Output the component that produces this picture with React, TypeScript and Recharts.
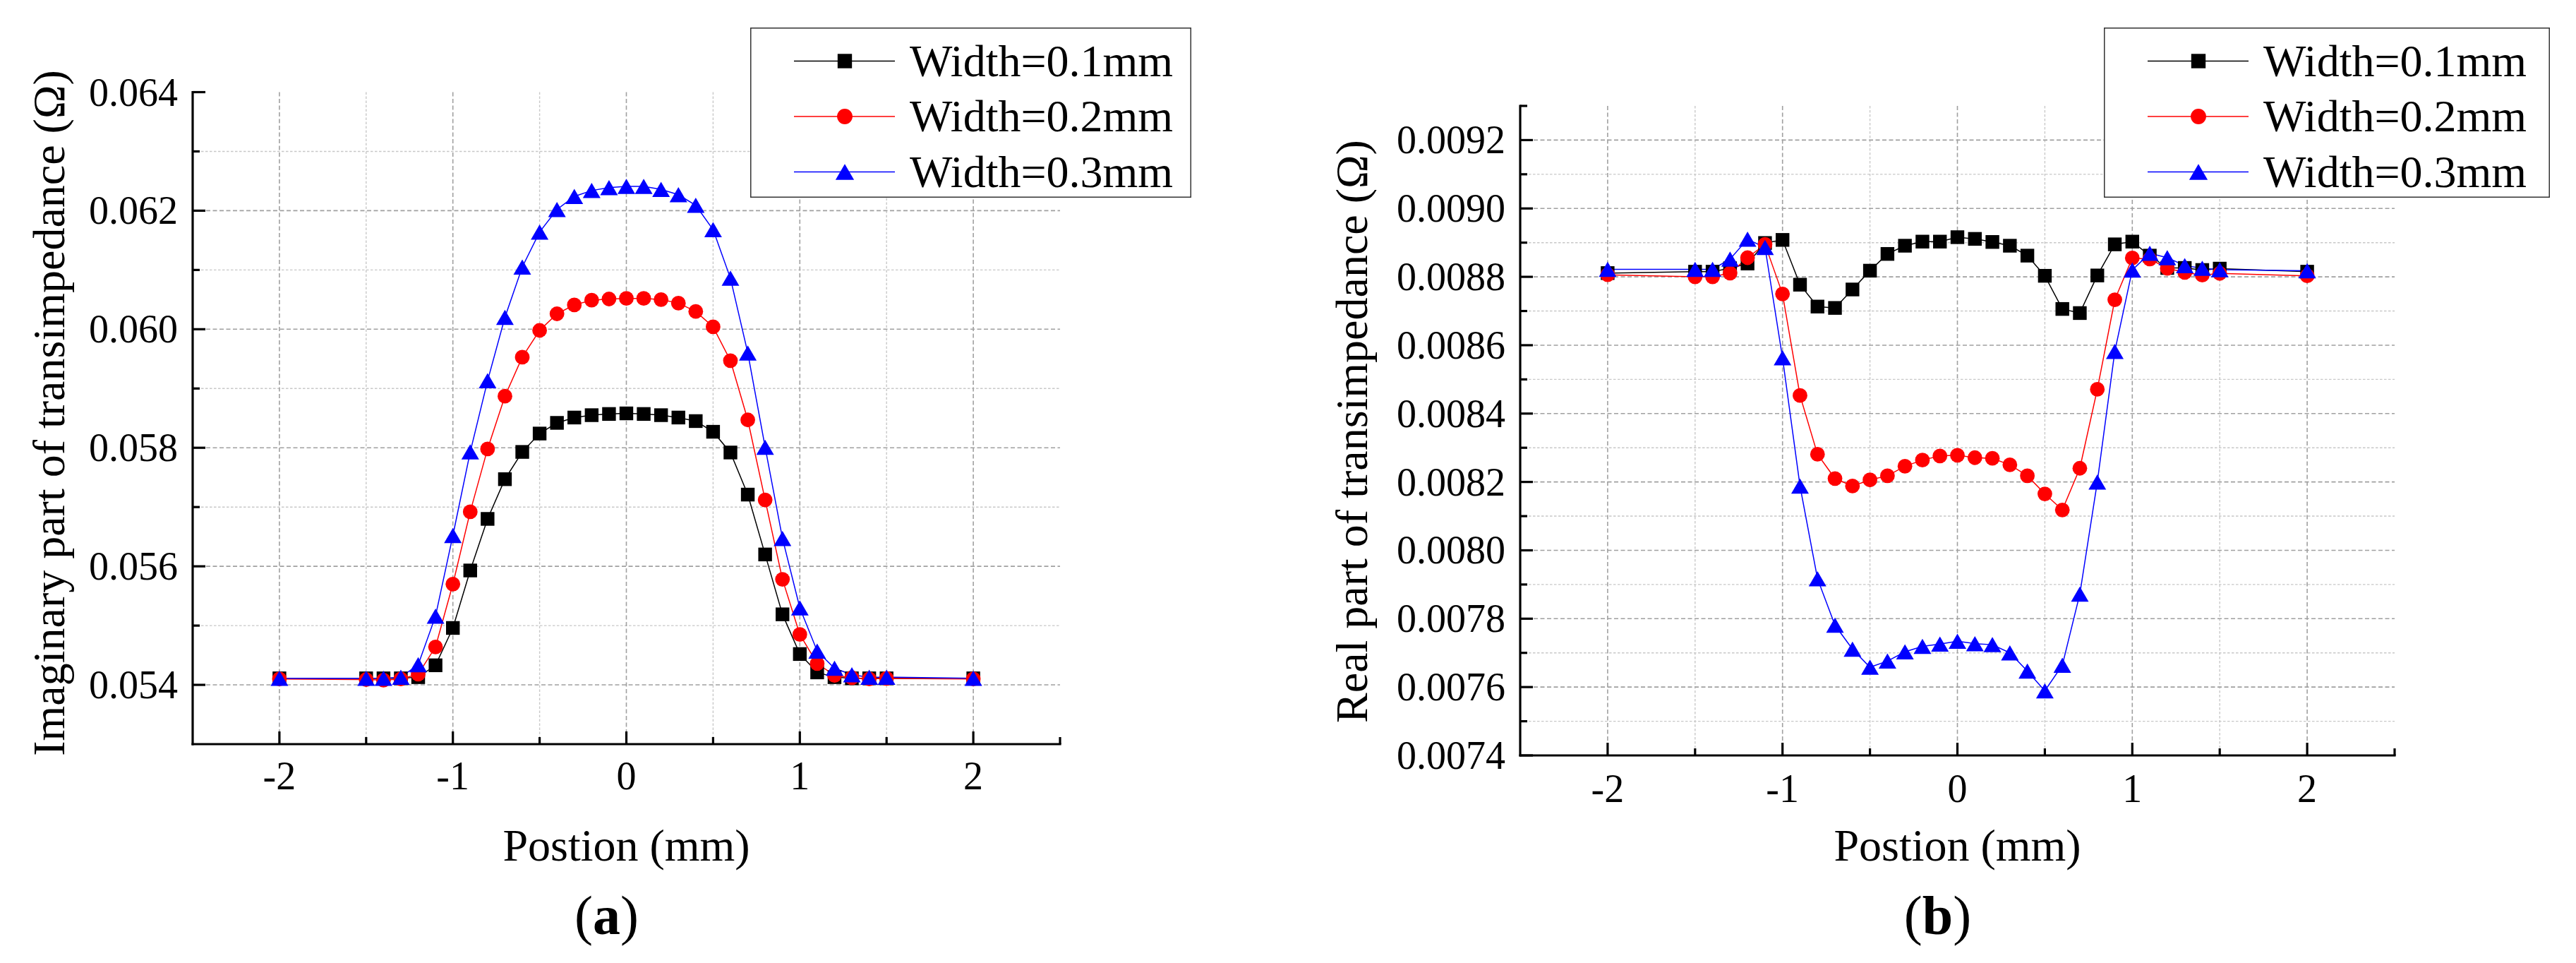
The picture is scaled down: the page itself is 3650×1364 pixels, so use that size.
import React from 'react';
import { LineChart, Line, XAxis, YAxis, CartesianGrid, Legend, Label } from 'recharts';

// ---------- data ----------
const positions = [-2, -1.5, -1.4, -1.3, -1.2, -1.1, -1.0, -0.9, -0.8, -0.7, -0.6, -0.5, -0.4, -0.3, -0.2, -0.1, 0,
  0.1, 0.2, 0.3, 0.4, 0.5, 0.6, 0.7, 0.8, 0.9, 1.0, 1.1, 1.2, 1.3, 1.4, 1.5, 2];

const seriesNames = ['Width=0.1mm', 'Width=0.2mm', 'Width=0.3mm'];
const seriesColors = ['#000000', '#ff0000', '#0000ff'];
const seriesShapes = ['square', 'circle', 'triangle'];

// (a) Imaginary part of transimpedance
const imagW1 = [0.05411, 0.05411, 0.05411, 0.05411, 0.05413, 0.05433, 0.05496, 0.05593, 0.05680, 0.05747, 0.05793,
  0.05824, 0.05842, 0.05851, 0.05855, 0.05857, 0.05858, 0.05857, 0.05855, 0.05851, 0.05845, 0.05827, 0.05792,
  0.05721, 0.05620, 0.05519, 0.05452, 0.05421, 0.05413, 0.05411, 0.05411, 0.05411, 0.05411];
const imagW2 = [0.05410, 0.05409, 0.05408, 0.05410, 0.05418, 0.05464, 0.05570, 0.05692, 0.05798, 0.05887, 0.05953,
  0.05998, 0.06026, 0.06041, 0.06049, 0.06051, 0.06052, 0.06052, 0.06050, 0.06044, 0.06030, 0.06004, 0.05947,
  0.05847, 0.05712, 0.05578, 0.05485, 0.05436, 0.05416, 0.05412, 0.05410, 0.05411, 0.05410];
const imagW3 = [0.05411, 0.05411, 0.05411, 0.05413, 0.05434, 0.05516, 0.05652, 0.05793, 0.05913, 0.06020, 0.06105,
  0.06164, 0.06202, 0.06224, 0.06234, 0.06239, 0.06241, 0.06241, 0.06236, 0.06227, 0.06209, 0.06168, 0.06086,
  0.05960, 0.05801, 0.05647, 0.05530, 0.05457, 0.05428, 0.05417, 0.05413, 0.05413, 0.05411];

// (b) Real part of transimpedance
const realW1 = [0.008811, 0.008815, 0.008815, 0.008825, 0.008839, 0.008899, 0.008908, 0.008777, 0.008713, 0.008709,
  0.008763, 0.008818, 0.008867, 0.008891, 0.008903, 0.008903, 0.008916, 0.008911, 0.008902, 0.008891, 0.008862,
  0.008803, 0.008706, 0.008694, 0.008804, 0.008895, 0.008903, 0.008862, 0.008826, 0.008826, 0.008820, 0.008824,
  0.008815];
const realW2 = [0.008806, 0.008800, 0.008800, 0.008811, 0.008856, 0.008895, 0.008750, 0.008453, 0.008281, 0.008210,
  0.008188, 0.008206, 0.008218, 0.008246, 0.008264, 0.008276, 0.008278, 0.008271, 0.008269, 0.008250, 0.008218,
  0.008165, 0.008118, 0.008240, 0.008471, 0.008733, 0.008855, 0.008852, 0.008825, 0.008813, 0.008805, 0.008810,
  0.008803];
const realW3 = [0.008822, 0.008822, 0.008822, 0.008852, 0.008910, 0.008886, 0.008563, 0.008188, 0.007917, 0.007781,
  0.007711, 0.007658, 0.007676, 0.007703, 0.007719, 0.007726, 0.007734, 0.007727, 0.007724, 0.007700, 0.007647,
  0.007589, 0.007664, 0.007872, 0.008200, 0.008582, 0.008820, 0.008869, 0.008856, 0.008833, 0.008825, 0.008821,
  0.008818];

// ---------- ticks ----------
const xMajorTicks = [-2, -1, 0, 1, 2];
const xMinorTicks = [-1.5, -0.5, 0.5, 1.5, 2.5];
const xMinorGrid = [-1.5, -0.5, 0.5, 1.5];

const imagMajorTicks = [0.054, 0.056, 0.058, 0.060, 0.062, 0.064];
const imagMinorTicks = [0.055, 0.057, 0.059, 0.061, 0.063];
const imagMajorGrid = [0.054, 0.056, 0.058, 0.060, 0.062];

const realMajorTicks = [0.0074, 0.0076, 0.0078, 0.0080, 0.0082, 0.0084, 0.0086, 0.0088, 0.0090, 0.0092];
const realMinorTicks = [0.0075, 0.0077, 0.0079, 0.0081, 0.0083, 0.0085, 0.0087, 0.0089, 0.0091, 0.0093];
const realMajorGrid = [0.0076, 0.0078, 0.0080, 0.0082, 0.0084, 0.0086, 0.0088, 0.0090, 0.0092];
const realMinorGrid = [0.0075, 0.0077, 0.0079, 0.0081, 0.0083, 0.0085, 0.0087, 0.0089, 0.0091];

const FONT = 'Liberation Serif';
const W = 1825;
const H = 1364;
const X_AXIS_H = 200;

function isIn(v: number, arr: number[]) {
  return arr.some((m) => Math.abs(m - v) < 1e-9);
}

function Marker({ shape, cx, cy, color, s = 1 }: any) {
  if (cx == null || cy == null) return null;
  if (shape === 'square') {
    const h = 9.7 * s;
    return <rect x={cx - h} y={cy - h} width={2 * h} height={2 * h} fill={color} />;
  }
  if (shape === 'circle') return <circle cx={cx} cy={cy} r={10.4 * s} fill={color} />;
  const w = 25 * s;
  const h = 21.5 * s;
  return <polygon points={`${cx},${cy - h / 2} ${cx + w / 2},${cy + h / 2} ${cx - w / 2},${cy + h / 2}`} fill={color} />;
}

const configs = [
  {
    id: 'a',
    series: [imagW1, imagW2, imagW3],
    plot: { left: 273, top: 130.5, right: 1502, bottom: 1054 },
    yDomain: [0.053, 0.064],
    yMajor: imagMajorTicks,
    yMinor: imagMinorTicks,
    yMajorGrid: imagMajorGrid,
    yMinorGrid: imagMinorTicks,
    digits: 3,
    yTitle: 'Imaginary part of transimpedance (Ω)',
    yTitleX: 91,
    yTitleY: 585,
    xLabelBase: 1118,
    legend: { left: 1063, top: 39, width: 625, height: 241 },
  },
  {
    id: 'b',
    series: [realW1, realW2, realW3],
    plot: { left: 329, top: 150, right: 1568, bottom: 1070 },
    yDomain: [0.0074, 0.0093],
    yMajor: realMajorTicks,
    yMinor: realMinorTicks,
    yMajorGrid: realMajorGrid,
    yMinorGrid: realMinorGrid,
    digits: 4,
    yTitle: 'Real part of transimpedance (Ω)',
    yTitleX: 112,
    yTitleY: 611,
    xLabelBase: 1136,
    legend: { left: 1156, top: 39, width: 632, height: 241 },
  },
];

function Panel({ cfg }: any) {
  const data = positions.map((x, i) => ({
    x,
    s0: cfg.series[0][i],
    s1: cfg.series[1][i],
    s2: cfg.series[2][i],
  }));
  const margin = {
    top: cfg.plot.top,
    right: W - cfg.plot.right,
    bottom: H - cfg.plot.bottom - X_AXIS_H,
    left: 0,
  };
  const plotCX = (cfg.plot.left + cfg.plot.right) / 2;

  const renderXTick = (p: any) => {
    const v = p.payload.value;
    const major = isIn(v, xMajorTicks);
    return (
      <g>
        <line x1={p.x} x2={p.x} y1={p.y} y2={p.y - (major ? 18 : 10)} stroke="#000" strokeWidth={3.2} />
        {major && (
          <text x={p.x} y={cfg.xLabelBase} textAnchor="middle" fontSize={56} fontFamily={FONT} fill="#000">
            {String(v)}
          </text>
        )}
      </g>
    );
  };

  const renderYTick = (p: any) => {
    const v = p.payload.value;
    const major = isIn(v, cfg.yMajor);
    return (
      <g>
        <line x1={p.x} x2={p.x + (major ? 18 : 10)} y1={p.y} y2={p.y} stroke="#000" strokeWidth={3.2} />
        {major && (
          <text x={p.x - 21} y={p.y + 19} textAnchor="end" fontSize={56} fontFamily={FONT} fill="#000">
            {v.toFixed(cfg.digits)}
          </text>
        )}
      </g>
    );
  };

  const renderXTitle = () => (
    <g>
      <text x={plotCX} y={1219} textAnchor="middle" fontSize={64} fontFamily={FONT} fill="#000">
        Postion (mm)
      </text>
      <text x={plotCX - 28} y={1323} textAnchor="middle" fontSize={78} fontFamily={FONT} fill="#000">
        (<tspan fontWeight="bold">{cfg.id}</tspan>)
      </text>
    </g>
  );

  const renderYTitle = () => (
    <text
      x={cfg.yTitleX}
      y={cfg.yTitleY}
      transform={`rotate(-90 ${cfg.yTitleX} ${cfg.yTitleY})`}
      textAnchor="middle"
      fontSize={64}
      fontFamily={FONT}
      fill="#000"
    >
      {cfg.yTitle}
    </text>
  );

  const lw = cfg.legend.width;
  const lh = cfg.legend.height;
  const renderLegend = (props: any) => {
    const payload = props.payload || [];
    return (
      <svg width={lw} height={lh} style={{ display: 'block' }}>
        <rect x={0.75} y={0.75} width={lw - 1.5} height={lh - 1.5} fill="#fff" stroke="#333" strokeWidth={1.5} />
        {payload.map((entry: any, i: number) => {
          let idx = seriesNames.indexOf(entry.value);
          if (idx < 0) idx = i;
          const cy = 47.5 + idx * 78.5;
          return (
            <g key={idx}>
              <line x1={62} x2={205} y1={cy} y2={cy} stroke={seriesColors[idx]} strokeWidth={1.5} />
              <Marker shape={seriesShapes[idx]} cx={134} cy={cy} color={seriesColors[idx]} s={1.05} />
              <text x={226} y={cy + 21} fontSize={64} fontFamily={FONT} fill="#000">
                {seriesNames[idx]}
              </text>
            </g>
          );
        })}
      </svg>
    );
  };

  const axisLine = { stroke: '#000', strokeWidth: 3.2, strokeLinecap: 'square' as const };

  return (
    <LineChart width={W} height={H} data={data} margin={margin} style={{ fontFamily: FONT }}>
      <CartesianGrid
        horizontalValues={cfg.yMinorGrid}
        verticalValues={xMinorGrid}
        stroke="#c8c8c8"
        strokeDasharray="3.5 2.5"
        strokeWidth={1.4}
      />
      <CartesianGrid
        horizontalValues={cfg.yMajorGrid}
        verticalValues={xMajorTicks}
        stroke="#a0a0a0"
        strokeDasharray="6 3.5"
        strokeWidth={1.6}
      />
      <XAxis
        dataKey="x"
        type="number"
        domain={[-2.5, 2.5]}
        allowDataOverflow
        ticks={[...xMajorTicks, ...xMinorTicks].sort((a, b) => a - b)}
        interval={0}
        tickSize={0}
        tickMargin={0}
        height={X_AXIS_H}
        axisLine={axisLine}
        tickLine={false}
        tick={renderXTick}
      >
        <Label content={renderXTitle} />
      </XAxis>
      <YAxis
        type="number"
        domain={cfg.yDomain}
        allowDataOverflow
        ticks={[...cfg.yMajor, ...cfg.yMinor].sort((a: number, b: number) => a - b)}
        interval={0}
        tickSize={0}
        tickMargin={0}
        width={cfg.plot.left}
        axisLine={axisLine}
        tickLine={false}
        tick={renderYTick}
      >
        <Label content={renderYTitle} />
      </YAxis>
      <Legend
        layout="vertical"
        align="center"
        verticalAlign="middle"
        wrapperStyle={{ left: cfg.legend.left, top: cfg.legend.top, width: lw, height: lh }}
        content={renderLegend}
      />
      {[0, 1, 2].map((k) => (
        <Line
          key={k}
          type="linear"
          dataKey={`s${k}`}
          name={seriesNames[k]}
          stroke={seriesColors[k]}
          strokeWidth={1.5}
          isAnimationActive={false}
          activeDot={false}
          dot={(p: any) => (
            <Marker key={`d${k}-${p.index}`} shape={seriesShapes[k]} cx={p.cx} cy={p.cy} color={seriesColors[k]} />
          )}
        />
      ))}
    </LineChart>
  );
}

export default function App() {
  return (
    <div
      style={{
        position: 'absolute',
        left: 0,
        top: 0,
        width: 3650,
        height: 1364,
        background: '#fff',
        display: 'flex',
        flexDirection: 'row',
      }}
    >
      {configs.map((cfg) => (
        <Panel key={cfg.id} cfg={cfg} />
      ))}
    </div>
  );
}
